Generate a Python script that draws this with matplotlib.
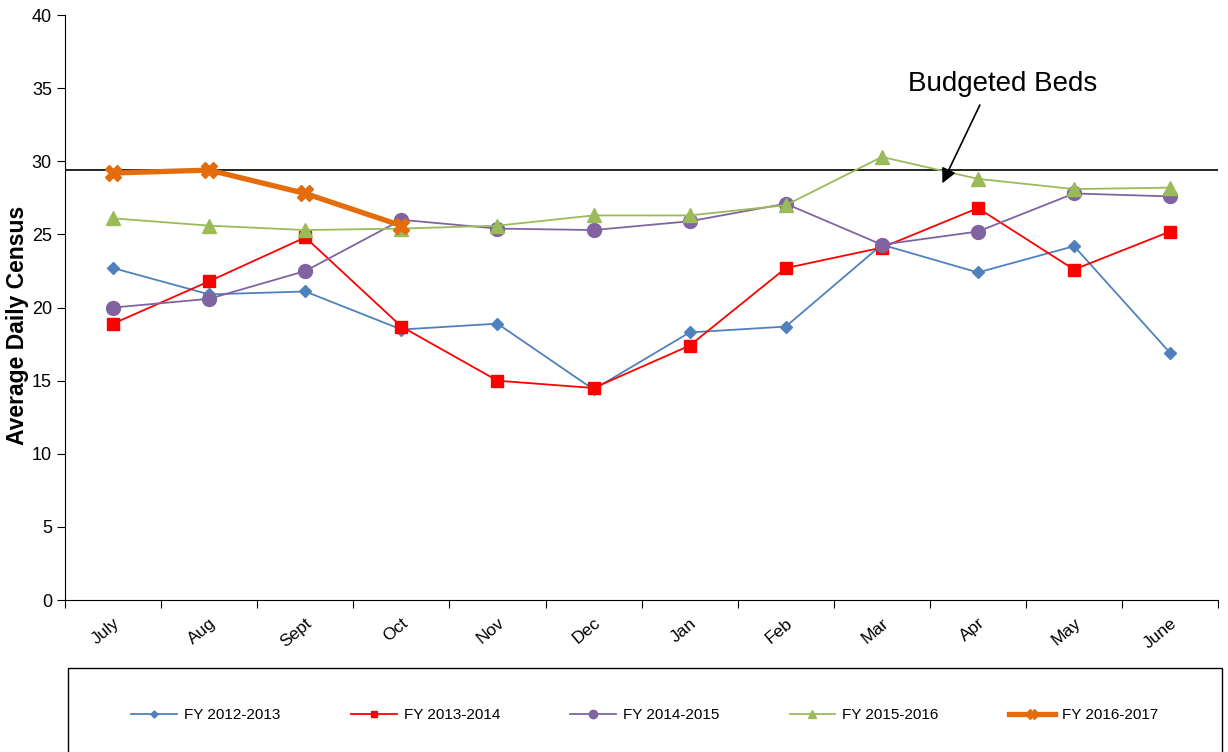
import matplotlib.pyplot as plt
import matplotlib.patches as patches
import numpy as np

plt.rcParams['font.family'] = ['Liberation Sans', 'DejaVu Sans']

months = ['July', 'Aug', 'Sept', 'Oct', 'Nov', 'Dec', 'Jan', 'Feb', 'Mar', 'Apr', 'May', 'June']

fy_2012 = [22.7, 20.9, 21.1, 18.5, 18.9, 14.4, 18.3, 18.7, 24.3, 22.4, 24.2, 16.9]
fy_2013 = [18.9, 21.8, 24.8, 18.7, 15.0, 14.5, 17.4, 22.7, 24.1, 26.8, 22.6, 25.2]
fy_2014 = [20.0, 20.6, 22.5, 26.0, 25.4, 25.3, 25.9, 27.1, 24.3, 25.2, 27.8, 27.6]
fy_2015 = [26.1, 25.6, 25.3, 25.4, 25.6, 26.3, 26.3, 27.0, 30.3, 28.8, 28.1, 28.2]
fy_2016 = [29.2, 29.4, 27.8, 25.6]

budgeted_beds = 29.4

fig = plt.figure(figsize=(12.28, 7.52), dpi=100)
ax = fig.add_axes([0.053, 0.202, 0.939, 0.778])

x = np.arange(len(months))

ax.axhline(budgeted_beds, color='black', lw=1.2, zorder=1)

ax.plot(x, fy_2012, color='#4f81bd', lw=1.3, marker='D', ms=6,
        label='FY 2012-2013', zorder=3)
ax.plot(x, fy_2013, color='#ff0000', lw=1.3, marker='s', ms=8,
        label='FY 2013-2014', zorder=3)
ax.plot(x, fy_2014, color='#8064a2', lw=1.3, marker='o', ms=10,
        label='FY 2014-2015', zorder=3)
ax.plot(x, fy_2015, color='#9bbb59', lw=1.3, marker='^', ms=10,
        label='FY 2015-2016', zorder=3)
ax.plot(x[:len(fy_2016)], fy_2016, color='#e46c0a', lw=3.8, marker='X', ms=12,
        label='FY 2016-2017', zorder=4)

# budgeted beds label and arrow
ax.text(9.26, 34.4, 'Budgeted Beds', fontsize=20, ha='center', va='bottom')
ax.annotate('', xy=(8.63, 28.5), xytext=(9.02, 33.85),
            arrowprops=dict(arrowstyle='-|>', color='black', lw=1.2,
                            mutation_scale=22, shrinkA=0, shrinkB=0))

ax.set_xlim(-0.5, 11.5)
ax.set_ylim(0, 40)
ax.set_yticks(range(0, 41, 5))
ax.set_xticks(np.arange(-0.5, 12, 1))
ax.set_xticklabels([])
ax.set_xticks(x, minor=True)
ax.set_xticklabels(months, minor=True, rotation=40, ha='right',
                   rotation_mode='anchor', fontsize=12.5)
ax.tick_params(axis='x', which='minor', length=0, pad=11)
ax.tick_params(axis='x', which='major', length=6, direction='out')
ax.tick_params(axis='y', length=6, direction='out', labelsize=13)

ax.spines['top'].set_visible(False)
ax.spines['right'].set_visible(False)
ax.set_ylabel('Average Daily Census', fontsize=16.5, fontweight='bold')
ax.yaxis.set_label_coords(-0.031, 0.47)

box = patches.Rectangle((0.055, -0.05), 0.94, 0.162, transform=fig.transFigure,
                        facecolor='white', edgecolor='black', lw=1.0)
fig.patches.append(box)

handles, labels = ax.get_legend_handles_labels()
leg = fig.legend(handles, labels, loc='center', ncol=5,
                 bbox_to_anchor=(0.525, 0.049), frameon=False,
                 prop={'size': 11}, markerscale=0.6,
                 handlelength=3.0, columnspacing=4.6, handletextpad=0.45)

fig.savefig('out.png', dpi=100)
plt.close(fig)
